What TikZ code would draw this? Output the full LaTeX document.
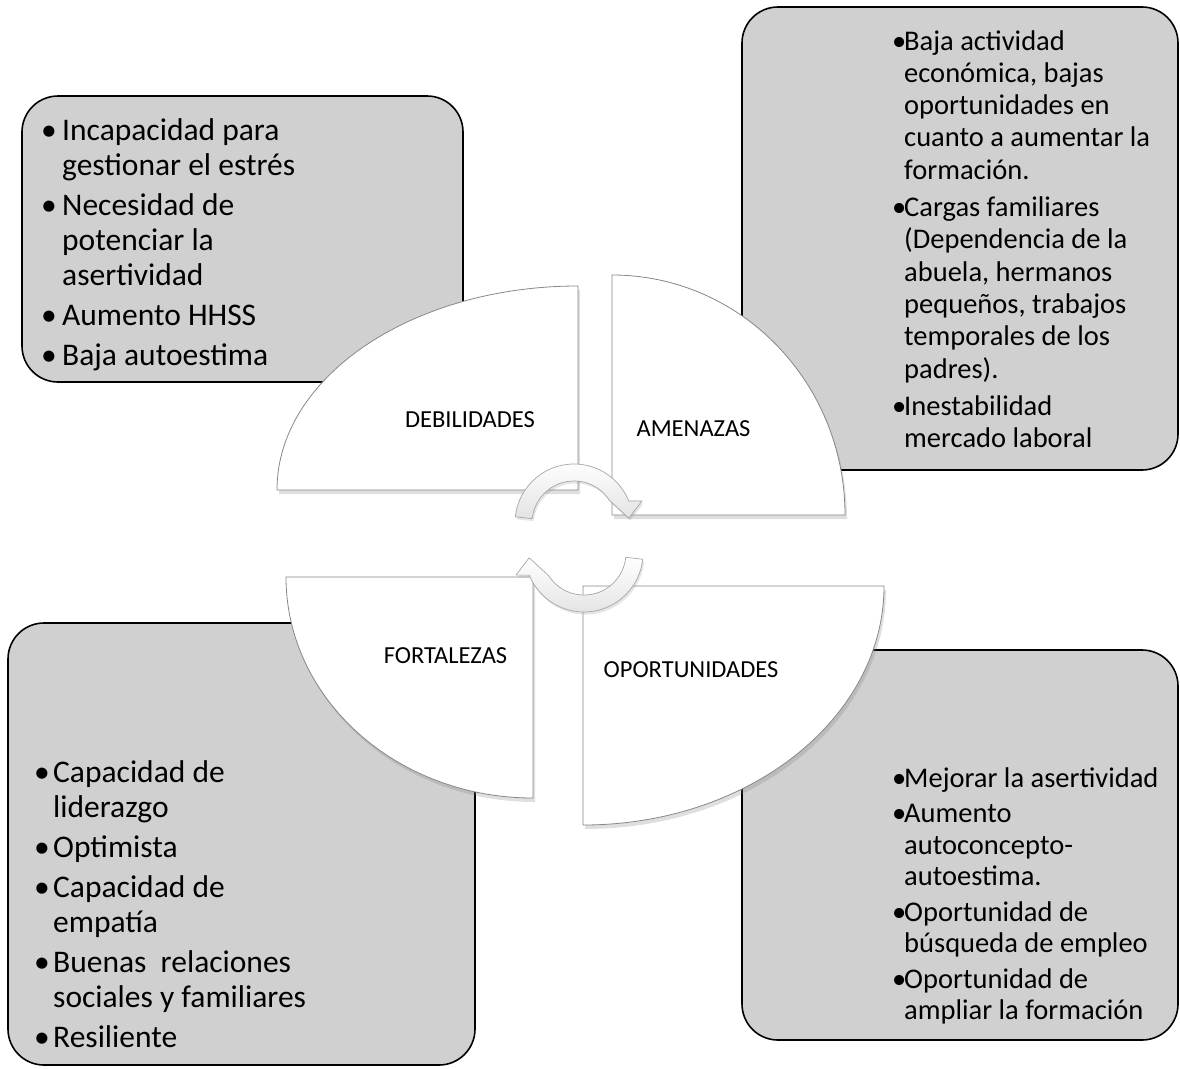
\documentclass[tikz,border=0pt]{standalone}
\usepackage{fontspec}
\setmainfont{Carlito}
\usetikzlibrary{calc,shadows}

\definecolor{boxgray}{RGB}{208,208,208}
\definecolor{edgegray}{RGB}{135,135,135}
\newcommand{\bul}[1]{\makebox[#1][l]{\textbullet}}

\begin{document}
\begin{tikzpicture}[x=1pt, y=-1pt, line join=round, line cap=round,
  box/.style={draw=black, line width=1.6pt, fill=boxgray, rounded corners=36pt},
  quad/.style={draw=edgegray, line width=0.8pt, fill=white,
    drop shadow={opacity=0.25, shadow xshift=2pt, shadow yshift=-4pt}},
  turn/.style={draw=gray!70, line width=0.7pt, top color=white, bottom color=gray!22,
    drop shadow={opacity=0.2, shadow xshift=1.5pt, shadow yshift=-2.5pt}},
  lbl/.style={inner sep=0pt, font=\fontsize{24.5}{28}\selectfont},
  biglist/.style={inner sep=0pt, anchor=base west, font=\fontsize{31.5}{35}\selectfont},
  smalllist/.style={inner sep=0pt, anchor=base west, font=\fontsize{28.5}{32.3}\selectfont}]
  \useasboundingbox (0,0) rectangle (1180,1068);

  \draw[box] (22,96) rectangle (463,382);
  \draw[box] (742,7) rectangle (1178,470);
  \draw[box] (8,623) rectangle (475,1065);
  \draw[box] (742,650) rectangle (1178,1040);

  \node[biglist] (debtext) at (41,140) {\begin{tabular}[t]{@{}l@{}l@{}}
    \bul{21pt} & Incapacidad para\\
     & gestionar el estrés\\[5pt]
    \bul{21pt} & Necesidad de\\
     & potenciar la\\
     & asertividad\\[5pt]
    \bul{21pt} & Aumento HHSS\\[5pt]
    \bul{21pt} & Baja autoestima
  \end{tabular}};

  \node[smalllist] (ametext) at (892,50) {\begin{tabular}[t]{@{}l@{}l@{}}
    \bul{12pt} & Baja actividad\\
     & económica, bajas\\
     & oportunidades en\\
     & cuanto a aumentar la\\
     & formación.\\[5pt]
    \bul{12pt} & Cargas familiares\\
     & (Dependencia de la\\
     & abuela, hermanos\\
     & pequeños, trabajos\\
     & temporales de los\\
     & padres).\\[5pt]
    \bul{12pt} & Inestabilidad\\
     & mercado laboral
  \end{tabular}};

  \node[biglist] (fortext) at (34,782) {\begin{tabular}[t]{@{}l@{}l@{}}
    \bul{19pt} & Capacidad de\\
     & liderazgo\\[5pt]
    \bul{19pt} & Optimista\\[5pt]
    \bul{19pt} & Capacidad de\\
     & empatía\\[5pt]
    \bul{19pt} & Buenas\ \ relaciones\\
     & sociales y familiares\\[5pt]
    \bul{19pt} & Resiliente
  \end{tabular}};

  \node[smalllist, font=\fontsize{28.5}{31.5}\selectfont] (opotext) at (892,787) {\begin{tabular}[t]{@{}l@{}l@{}}
    \bul{12pt} & Mejorar la asertividad\\[4pt]
    \bul{12pt} & Aumento\\
     & autoconcepto-\\
     & autoestima.\\[4pt]
    \bul{12pt} & Oportunidad de\\
     & búsqueda de empleo\\[4pt]
    \bul{12pt} & Oportunidad de\\
     & ampliar la formación
  \end{tabular}};

  \coordinate (debc) at (578,490);
  \coordinate (amec) at (612,515);
  \coordinate (forc) at (533,577);
  \coordinate (opoc) at (583,586);

  \draw[quad] (277,490) arc[start angle=180, end angle=90, x radius=301pt, y radius=204pt] -- (debc) -- cycle;
  \draw[quad] (612,275) arc[start angle=90, end angle=0, x radius=233pt, y radius=240pt] -- (amec) -- cycle;
  \draw[quad] (286,577) arc[start angle=180, end angle=270, x radius=247pt, y radius=221pt] -- (forc) -- cycle;
  \draw[quad] (884,586) arc[start angle=0, end angle=-90, x radius=301pt, y radius=239pt] -- (opoc) -- cycle;

  \coordinate (ta) at (574,523);
  \coordinate (tb) at (584,553);

  \draw[turn] ($(ta)+(174:59pt)$) arc[start angle=174, end angle=22, radius=59pt]
    -- ($(ta)+(18:71.5pt)$) -- ($(ta)+(5:55pt)$) -- ($(ta)+(33:42pt)$)
    arc[start angle=33, end angle=174, radius=42pt] -- cycle;
  \draw[turn] ($(tb)+(354:59pt)$) arc[start angle=354, end angle=202, radius=59pt]
    -- ($(tb)+(198:71.5pt)$) -- ($(tb)+(185:55pt)$) -- ($(tb)+(213:42pt)$)
    arc[start angle=213, end angle=354, radius=42pt] -- cycle;

  \node[lbl] (deb) at (470,419.5) {DEBILIDADES};
  \node[lbl] (ame) at (693.5,428.5) {AMENAZAS};
  \node[lbl] (for) at (445.5,656) {FORTALEZAS};
  \node[lbl] (opo) at (691,670) {OPORTUNIDADES};
\end{tikzpicture}
\end{document}
